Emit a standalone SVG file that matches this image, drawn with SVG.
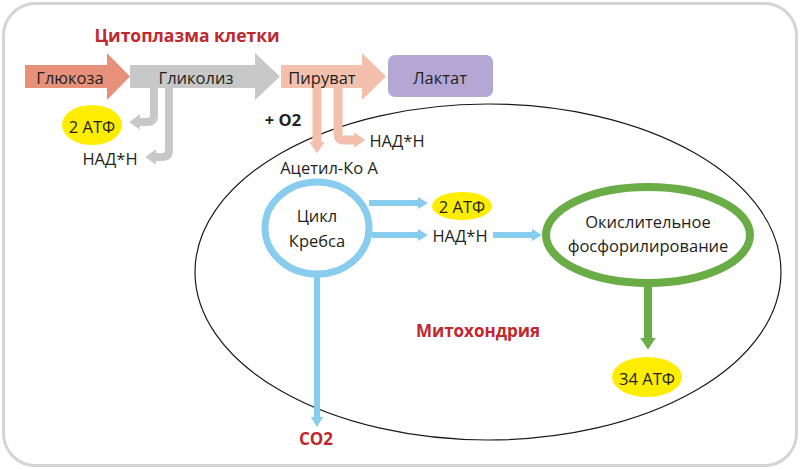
<svg xmlns="http://www.w3.org/2000/svg" width="800" height="470" viewBox="0 0 800 470">
<style>
text{font-family:"Open Sans","Noto Sans","Liberation Sans",sans-serif;font-size:16.5px;fill:#231f20;text-anchor:middle;dominant-baseline:central}
.red{font-weight:bold;fill:#c1272d;font-size:17px}
.b{font-weight:bold}
.gray{fill:none;stroke:#c8c8c8;stroke-width:8}
.sal{fill:none;stroke:#f4c0ae;stroke-width:9}
.blue{fill:none;stroke:#88cdee;stroke-width:6}
.green{fill:none;stroke:#6aac46;stroke-width:8}
.atp{fill:#ffed00}
</style>
<defs>
<marker id="mg" viewBox="0 0 1.4 2" markerWidth="1.4" markerHeight="2" refX="0.05" refY="1" orient="auto" markerUnits="strokeWidth"><path d="M0,0 L1.4,1 L0,2 z" fill="#c8c8c8"/></marker>
<marker id="ms" viewBox="0 0 1.3 1.8" markerWidth="1.3" markerHeight="1.8" refX="0.05" refY="0.9" orient="auto" markerUnits="strokeWidth"><path d="M0,0 L1.3,0.9 L0,1.8 z" fill="#f4c0ae"/></marker>
<marker id="mb" viewBox="0 0 1.7 2.1" markerWidth="1.7" markerHeight="2.1" refX="0.05" refY="1.05" orient="auto" markerUnits="strokeWidth"><path d="M0,0 L1.7,1.05 L0,2.1 z" fill="#88cdee"/></marker>
<marker id="mgr" viewBox="0 0 1.5 2" markerWidth="1.5" markerHeight="2" refX="0.05" refY="1" orient="auto" markerUnits="strokeWidth"><path d="M0,0 L1.5,1 L0,2 z" fill="#6aac46"/></marker>
</defs>
<rect x="3.5" y="3.5" width="793" height="462" rx="32" fill="#fff" stroke="#d4d4d4" stroke-width="3"/>
<ellipse cx="488" cy="272" rx="293" ry="168" fill="none" stroke="#1a1a1a" stroke-width="1.2"/>
<text class="red" x="187" y="35" style="font-size:17.5px">Цитоплазма клетки</text>
<text class="red" x="478" y="330">Митохондрия</text>
<g id="connectors">
<path class="gray" d="M154,88 V115 Q154,122 147,122 H140" marker-end="url(#mg)"/>
<path class="gray" d="M169,88 V150 Q169,157 162,157 H156" marker-end="url(#mg)"/>
<path class="sal" d="M317,88 V142" marker-end="url(#ms)"/>
<path class="sal" d="M338,88 V134 Q338,140 344,140 H354" marker-end="url(#ms)"/>
<path class="blue" d="M369,203 H418" marker-end="url(#mb)"/>
<path class="blue" d="M372,235 H418" marker-end="url(#mb)"/>
<path class="blue" d="M493,235 H532" marker-end="url(#mb)"/>
<path class="blue" d="M317,277 V417" marker-end="url(#mb)"/>
<path class="green" d="M648,287 V338" marker-end="url(#mgr)"/>
</g>
<g id="glucose"><polygon points="25,65 107,65 107,53 130,76.5 107,100 107,88 25,88" fill="#e8917a"/><text x="70" y="77">Глюкоза</text></g>
<g id="glycolysis"><polygon points="130,65 255,65 255,53 280,76.5 255,100 255,88 130,88" fill="#c8c8c8"/><text x="196" y="77">Гликолиз</text></g>
<g id="pyruvate"><polygon points="281,65 362,65 362,53 386,76.5 362,100 362,88 281,88" fill="#f4c0ae"/><text x="322" y="77">Пируват</text></g>
<g id="lactate"><rect x="388" y="55" width="105" height="42" rx="7" fill="#b4a7d6"/><text x="440" y="77">Лактат</text></g>
<g id="atp1"><ellipse class="atp" cx="92" cy="125" rx="30" ry="20"/><text x="92" y="126">2 АТФ</text></g>
<g id="nadh1"><text x="110" y="158">НАД*Н</text></g>
<g id="o2"><text class="b" x="283" y="119">+ O2</text></g>
<g id="nadh2"><text x="397" y="140">НАД*Н</text></g>
<g id="acetyl"><text x="329" y="167">Ацетил-Ко А</text></g>
<g id="krebs"><ellipse cx="317" cy="228" rx="52" ry="46" fill="#fff" stroke="#88cdee" stroke-width="7"/><text x="317" y="215">Цикл</text><text x="317" y="240">Кребса</text></g>
<g id="atp2"><ellipse class="atp" cx="462" cy="206" rx="30" ry="14"/><text x="462" y="206">2 АТФ</text></g>
<g id="nadh3"><text x="460" y="235">НАД*Н</text></g>
<g id="oxphos"><ellipse cx="648" cy="235" rx="102" ry="48" fill="#fff" stroke="#6aac46" stroke-width="8"/><text x="648" y="221">Окислительное</text><text x="648" y="245">фосфорилирование</text></g>
<g id="atp3"><ellipse class="atp" cx="647" cy="377" rx="35" ry="20"/><text x="647" y="378">34 АТФ</text></g>
<g id="co2"><text class="red" x="316" y="438">CO2</text></g>
</svg>
